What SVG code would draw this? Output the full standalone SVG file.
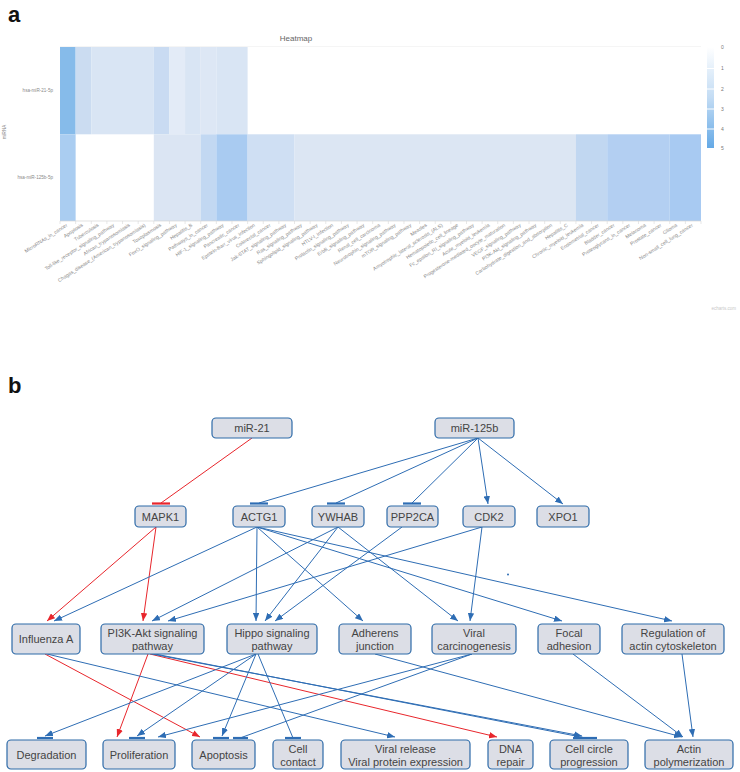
<svg xmlns="http://www.w3.org/2000/svg" width="740" height="772" viewBox="0 0 740 772">
<defs>
<style>
.panel{font-family:"Liberation Sans",Arial,sans-serif;font-weight:bold;font-size:22px;fill:#111}
.xl{font-family:"Liberation Sans",Arial,sans-serif;font-size:5px;fill:#8a8a8a}
.yl{font-family:"Liberation Sans",Arial,sans-serif;font-size:4.6px;fill:#8a8a8a}
.lg{font-family:"Liberation Sans",Arial,sans-serif;font-size:5px;fill:#777}
.ttl{font-family:"Liberation Sans",Arial,sans-serif;font-size:8px;fill:#666}
.box{fill:#dcdee6;stroke:#2d6aa8;stroke-width:1.2}
.nt{font-family:"Liberation Sans",Arial,sans-serif;font-size:11px;fill:#444;text-anchor:middle}
.b{stroke:#2e6db4;stroke-width:1;fill:none}
.r{stroke:#e8262c;stroke-width:1;fill:none}
.bb{stroke:#2e6db4;stroke-width:2.2}
.rb{stroke:#e8262c;stroke-width:2.2}
.tick{stroke:#d6d6d6;stroke-width:0.6}
</style>
<marker id="ab" viewBox="0 0 10 8" refX="10" refY="4" markerWidth="8" markerHeight="6.5" markerUnits="userSpaceOnUse" orient="auto"><path d="M0,0L10,4L0,8z" fill="#2e6db4"/></marker>
<marker id="ar" viewBox="0 0 10 8" refX="10" refY="4" markerWidth="8" markerHeight="6.5" markerUnits="userSpaceOnUse" orient="auto"><path d="M0,0L10,4L0,8z" fill="#e8262c"/></marker>
<linearGradient id="lgd" x1="0" y1="0" x2="0" y2="1"><stop offset="0" stop-color="#ffffff"/><stop offset="0.5" stop-color="#c3dcf4"/><stop offset="1" stop-color="#64a9e6"/></linearGradient>
</defs>
<rect width="740" height="772" fill="#fff"/>

<text class="panel" x="8" y="22">a</text>
<text class="panel" x="8" y="393">b</text>

<g id="heatmap">
<text class="ttl" x="296" y="41" text-anchor="middle">Heatmap</text>
<line x1="60" y1="46.5" x2="701" y2="46.5" stroke="#eeeeee" stroke-width="0.6"/>
<text class="yl" x="6" y="132" text-anchor="middle" transform="rotate(-90 6 132)">miRNA</text>
<text class="yl" x="53" y="92" text-anchor="end">hsa-miR-21-5p</text>
<text class="yl" x="53" y="179" text-anchor="end">hsa-miR-125b-5p</text>
<g id="row1">
<rect x="60" y="47" width="15.63" height="87.3" fill="#86bbea"/>
<rect x="75.63" y="47" width="15.64" height="87.3" fill="#cbdcf1"/>
<rect x="91.27" y="47" width="62.53" height="87.3" fill="#d9e5f4"/>
<rect x="153.8" y="47" width="15.64" height="87.3" fill="#c9dbf2"/>
<rect x="169.44" y="47" width="15.63" height="87.3" fill="#e3ebf7"/>
<rect x="185.07" y="47" width="15.64" height="87.3" fill="#d9e5f4"/>
<rect x="200.71" y="47" width="15.63" height="87.3" fill="#dde7f5"/>
<rect x="216.34" y="47" width="31.27" height="87.3" fill="#d9e5f4"/>
</g>
<g id="row2">
<rect x="60" y="134.3" width="15.63" height="86.7" fill="#aacdf1"/>
<rect x="153.8" y="134.3" width="46.91" height="86.7" fill="#dbe5f3"/>
<rect x="200.71" y="134.3" width="15.63" height="86.7" fill="#c2d8f2"/>
<rect x="216.34" y="134.3" width="31.27" height="86.7" fill="#a9cbf1"/>
<rect x="247.61" y="134.3" width="46.9" height="86.7" fill="#cfdff3"/>
<rect x="294.51" y="134.3" width="281.41" height="86.7" fill="#dce6f3"/>
<rect x="575.92" y="134.3" width="31.27" height="86.7" fill="#c1d7f1"/>
<rect x="607.19" y="134.3" width="62.54" height="86.7" fill="#b3cff2"/>
<rect x="669.73" y="134.3" width="31.27" height="86.7" fill="#a8caf2"/>
</g>
<line x1="60" y1="221" x2="701" y2="221" stroke="#d6d6d6" stroke-width="0.7"/>
<g id="ticks">
<path class="tick" d="M60,221v3M75.63,221v3M91.27,221v3M106.9,221v3M122.54,221v3M138.17,221v3M153.8,221v3M169.44,221v3M185.07,221v3M200.71,221v3M216.34,221v3M231.98,221v3M247.61,221v3M263.24,221v3M278.88,221v3M294.51,221v3M310.15,221v3M325.78,221v3M341.41,221v3M357.05,221v3M372.68,221v3M388.32,221v3M403.95,221v3M419.59,221v3M435.22,221v3M450.85,221v3M466.49,221v3M482.12,221v3M497.76,221v3M513.39,221v3M529.02,221v3M544.66,221v3M560.29,221v3M575.93,221v3M591.56,221v3M607.2,221v3M622.83,221v3M638.46,221v3M654.1,221v3M669.73,221v3M685.37,221v3M701,221v3"/>
</g>
<g id="xlabels">
<text class="xl" text-anchor="end" transform="translate(67.8,226) rotate(-33)">MicroRNAs_in_cancer</text>
<text class="xl" text-anchor="end" transform="translate(83.4,226) rotate(-33)">Apoptosis</text>
<text class="xl" text-anchor="end" transform="translate(99.1,226) rotate(-33)">Tuberculosis</text>
<text class="xl" text-anchor="end" transform="translate(114.7,226) rotate(-33)">Toll-like_receptor_signaling_pathway</text>
<text class="xl" text-anchor="end" transform="translate(130.4,226) rotate(-33)">African_trypanosomiasis</text>
<text class="xl" text-anchor="end" transform="translate(146,226) rotate(-33)">Chagas_disease_(American_trypanosomiasis)</text>
<text class="xl" text-anchor="end" transform="translate(161.6,226) rotate(-33)">Toxoplasmosis</text>
<text class="xl" text-anchor="end" transform="translate(177.3,226) rotate(-33)">FoxO_signaling_pathway</text>
<text class="xl" text-anchor="end" transform="translate(192.9,226) rotate(-33)">Hepatitis_B</text>
<text class="xl" text-anchor="end" transform="translate(208.5,226) rotate(-33)">Pathways_in_cancer</text>
<text class="xl" text-anchor="end" transform="translate(224.2,226) rotate(-33)">HIF-1_signaling_pathway</text>
<text class="xl" text-anchor="end" transform="translate(239.8,226) rotate(-33)">Pancreatic_cancer</text>
<text class="xl" text-anchor="end" transform="translate(255.4,226) rotate(-33)">Epstein-Barr_virus_infection</text>
<text class="xl" text-anchor="end" transform="translate(271.1,226) rotate(-33)">Colorectal_cancer</text>
<text class="xl" text-anchor="end" transform="translate(286.7,226) rotate(-33)">Jak-STAT_signaling_pathway</text>
<text class="xl" text-anchor="end" transform="translate(302.4,226) rotate(-33)">Ras_signaling_pathway</text>
<text class="xl" text-anchor="end" transform="translate(318,226) rotate(-33)">Sphingolipid_signaling_pathway</text>
<text class="xl" text-anchor="end" transform="translate(333.6,226) rotate(-33)">HTLV-I_infection</text>
<text class="xl" text-anchor="end" transform="translate(349.3,226) rotate(-33)">Prolactin_signaling_pathway</text>
<text class="xl" text-anchor="end" transform="translate(364.9,226) rotate(-33)">ErbB_signaling_pathway</text>
<text class="xl" text-anchor="end" transform="translate(380.5,226) rotate(-33)">Renal_cell_carcinoma</text>
<text class="xl" text-anchor="end" transform="translate(396.2,226) rotate(-33)">Neurotrophin_signaling_pathway</text>
<text class="xl" text-anchor="end" transform="translate(411.8,226) rotate(-33)">mTOR_signaling_pathway</text>
<text class="xl" text-anchor="end" transform="translate(427.4,226) rotate(-33)">Measles</text>
<text class="xl" text-anchor="end" transform="translate(443.1,226) rotate(-33)">Amyotrophic_lateral_sclerosis_(ALS)</text>
<text class="xl" text-anchor="end" transform="translate(458.7,226) rotate(-33)">Hematopoietic_cell_lineage</text>
<text class="xl" text-anchor="end" transform="translate(474.4,226) rotate(-33)">Fc_epsilon_RI_signaling_pathway</text>
<text class="xl" text-anchor="end" transform="translate(490,226) rotate(-33)">Acute_myeloid_leukemia</text>
<text class="xl" text-anchor="end" transform="translate(505.6,226) rotate(-33)">Progesterone-mediated_oocyte_maturation</text>
<text class="xl" text-anchor="end" transform="translate(521.3,226) rotate(-33)">VEGF_signaling_pathway</text>
<text class="xl" text-anchor="end" transform="translate(536.9,226) rotate(-33)">PI3K-Akt_signaling_pathway</text>
<text class="xl" text-anchor="end" transform="translate(552.5,226) rotate(-33)">Carbohydrate_digestion_and_absorption</text>
<text class="xl" text-anchor="end" transform="translate(568.2,226) rotate(-33)">Hepatitis_C</text>
<text class="xl" text-anchor="end" transform="translate(583.8,226) rotate(-33)">Chronic_myeloid_leukemia</text>
<text class="xl" text-anchor="end" transform="translate(599.4,226) rotate(-33)">Endometrial_cancer</text>
<text class="xl" text-anchor="end" transform="translate(615.1,226) rotate(-33)">Bladder_cancer</text>
<text class="xl" text-anchor="end" transform="translate(630.7,226) rotate(-33)">Proteoglycans_in_cancer</text>
<text class="xl" text-anchor="end" transform="translate(646.4,226) rotate(-33)">Melanoma</text>
<text class="xl" text-anchor="end" transform="translate(662,226) rotate(-33)">Prostate_cancer</text>
<text class="xl" text-anchor="end" transform="translate(677.6,226) rotate(-33)">Glioma</text>
<text class="xl" text-anchor="end" transform="translate(693.3,226) rotate(-33)">Non-small_cell_lung_cancer</text>
</g>
<g id="legend">
<rect x="707" y="47" width="7" height="101" fill="url(#lgd)"/>
<path d="M706.5,68.5h8M706.5,89h8M706.5,109h8M706.5,129h8" stroke="#fff" stroke-width="1"/>
<text class="lg" x="721" y="49">0</text>
<text class="lg" x="721" y="70">1</text>
<text class="lg" x="721" y="90.5">2</text>
<text class="lg" x="721" y="111">3</text>
<text class="lg" x="721" y="131">4</text>
<text class="lg" x="721" y="150">5</text>
</g>
<text x="736" y="310" text-anchor="end" font-family="Liberation Sans, Arial, sans-serif" font-size="4.5" fill="#c8c8c8">echarts.com</text>
</g>

<g id="connectors">
<path class="r" d="M252,438L161,503" />
<line class="rb" x1="152" y1="503.5" x2="170" y2="503.5"/>
<path class="r" d="M156,527L47,621" marker-end="url(#ar)"/>
<path class="r" d="M156,527L143,621" marker-end="url(#ar)"/>
<path class="r" d="M45,654L200,737" marker-end="url(#ar)"/>
<path class="r" d="M148,654L117,737" marker-end="url(#ar)"/>
<path class="r" d="M150,654L497,737" marker-end="url(#ar)"/>

<path class="b" d="M478,438L259,503"/>
<line class="bb" x1="250" y1="503.5" x2="268" y2="503.5"/>
<path class="b" d="M478,438L336,503" stroke-width="1.6"/>
<line class="bb" x1="327" y1="503.5" x2="345" y2="503.5"/>
<path class="b" d="M478,438L412,503"/>
<line class="bb" x1="403" y1="503.5" x2="421" y2="503.5"/>
<path class="b" d="M478,438L488,504" marker-end="url(#ab)"/>
<path class="b" d="M478,438L563,504" marker-end="url(#ab)"/>

<path class="b" d="M257,527L54,621" marker-end="url(#ab)"/>
<path class="b" d="M257,527L256,621" marker-end="url(#ab)"/>
<path class="b" d="M257,527L363,621" marker-end="url(#ab)"/>
<path class="b" d="M257,527L562,621" marker-end="url(#ab)"/>
<path class="b" d="M257,527L672,621" marker-end="url(#ab)"/>
<path class="b" d="M338,527L152,621" marker-end="url(#ab)"/>
<path class="b" d="M338,527L265,621" marker-end="url(#ab)"/>
<path class="b" d="M338,527L458,621" marker-end="url(#ab)"/>
<path class="b" d="M402,527L275,621" marker-end="url(#ab)"/>
<path class="b" d="M482,527L168,621" marker-end="url(#ab)"/>
<path class="b" d="M482,527L470,621" marker-end="url(#ab)"/>

<path class="b" d="M47,654L395,737" marker-end="url(#ab)"/>
<path class="b" d="M152,654L582,736" marker-end="url(#ab)"/>
<path class="b" d="M155,654L586,738"/>
<line class="bb" x1="573" y1="738" x2="597" y2="738"/>
<path class="b" d="M256,654L45,736" marker-end="url(#ab)"/>
<line class="bb" x1="37" y1="738" x2="53" y2="738"/>
<path class="b" d="M256,654L137,736" marker-end="url(#ab)"/>
<line class="bb" x1="129" y1="738" x2="145" y2="738"/>
<path class="b" d="M256,654L222,736" marker-end="url(#ab)"/>
<line class="bb" x1="213" y1="738" x2="229" y2="738"/>
<path class="b" d="M258,654L293,738"/>
<line class="bb" x1="285" y1="738" x2="301" y2="738"/>
<path class="b" d="M472,654L158,737" marker-end="url(#ab)"/>
<path class="b" d="M472,654L240,738"/>
<line class="bb" x1="233" y1="738" x2="248" y2="738"/>
<path class="b" d="M375,654L682,737" marker-end="url(#ab)"/>
<path class="b" d="M573,654L683,737" marker-end="url(#ab)"/>
<path class="b" d="M682,654L693,737" marker-end="url(#ab)"/>
<circle cx="508" cy="574.5" r="1" fill="#2e6db4"/>
</g>

<g id="n-mir21"><rect class="box" x="212" y="418" width="80" height="20" rx="4"/><text class="nt" x="252" y="432">miR-21</text></g>
<g id="n-mir125b"><rect class="box" x="435" y="418" width="79" height="20" rx="4"/><text class="nt" x="474.5" y="432">miR-125b</text></g>

<g id="n-mapk1"><rect class="box" x="135" y="506" width="51" height="21" rx="4"/><text class="nt" x="160.5" y="520.5">MAPK1</text></g>
<g id="n-actg1"><rect class="box" x="233" y="506" width="52" height="21" rx="4"/><text class="nt" x="259" y="520.5">ACTG1</text></g>
<g id="n-ywhab"><rect class="box" x="312" y="506" width="52" height="21" rx="4"/><text class="nt" x="338" y="520.5">YWHAB</text></g>
<g id="n-ppp2ca"><rect class="box" x="387" y="506" width="51" height="21" rx="4"/><text class="nt" x="412.5" y="520.5">PPP2CA</text></g>
<g id="n-cdk2"><rect class="box" x="463" y="506" width="52" height="21" rx="4"/><text class="nt" x="489" y="520.5">CDK2</text></g>
<g id="n-xpo1"><rect class="box" x="537" y="506" width="52" height="21" rx="4"/><text class="nt" x="563" y="520.5">XPO1</text></g>

<g id="n-influenza"><rect class="box" x="12" y="624" width="68" height="30" rx="4"/><text class="nt" x="46" y="643">Influenza A</text></g>
<g id="n-pi3k"><rect class="box" x="101" y="624" width="103" height="30" rx="4"/><text class="nt" x="152.5" y="637">PI3K-Akt signaling</text><text class="nt" x="152.5" y="650">pathway</text></g>
<g id="n-hippo"><rect class="box" x="227" y="624" width="90" height="30" rx="4"/><text class="nt" x="272" y="637">Hippo signaling</text><text class="nt" x="272" y="650">pathway</text></g>
<g id="n-adherens"><rect class="box" x="339" y="624" width="72" height="30" rx="4"/><text class="nt" x="375" y="637">Adherens</text><text class="nt" x="375" y="650">junction</text></g>
<g id="n-viralcarc"><rect class="box" x="432" y="624" width="84" height="30" rx="4"/><text class="nt" x="474" y="637">Viral</text><text class="nt" x="474" y="650">carcinogenesis</text></g>
<g id="n-focal"><rect class="box" x="538" y="624" width="62" height="30" rx="4"/><text class="nt" x="569" y="637">Focal</text><text class="nt" x="569" y="650">adhesion</text></g>
<g id="n-regulation"><rect class="box" x="622" y="624" width="102" height="30" rx="4"/><text class="nt" x="673" y="637">Regulation of</text><text class="nt" x="673" y="650">actin cytoskeleton</text></g>

<g id="n-degradation"><rect class="box" x="7" y="740" width="79" height="29" rx="4"/><text class="nt" x="46.5" y="759">Degradation</text></g>
<g id="n-proliferation"><rect class="box" x="103" y="740" width="72" height="29" rx="4"/><text class="nt" x="139" y="759">Proliferation</text></g>
<g id="n-apoptosis"><rect class="box" x="192" y="740" width="63" height="29" rx="4"/><text class="nt" x="223.5" y="759">Apoptosis</text></g>
<g id="n-cellcontact"><rect class="box" x="273" y="740" width="50" height="29" rx="4"/><text class="nt" x="298" y="753">Cell</text><text class="nt" x="298" y="765.5">contact</text></g>
<g id="n-viralrelease"><rect class="box" x="341" y="740" width="129" height="29" rx="4"/><text class="nt" x="405.5" y="753">Viral release</text><text class="nt" x="405.5" y="765.5">Viral protein expression</text></g>
<g id="n-dnarepair"><rect class="box" x="488" y="740" width="45" height="29" rx="4"/><text class="nt" x="510.5" y="753">DNA</text><text class="nt" x="510.5" y="765.5">repair</text></g>
<g id="n-cellcircle"><rect class="box" x="550" y="740" width="78" height="29" rx="4"/><text class="nt" x="589" y="753">Cell circle</text><text class="nt" x="589" y="765.5">progression</text></g>
<g id="n-actin"><rect class="box" x="645" y="740" width="88" height="29" rx="4"/><text class="nt" x="689" y="753">Actin</text><text class="nt" x="689" y="765.5">polymerization</text></g>
</svg>
